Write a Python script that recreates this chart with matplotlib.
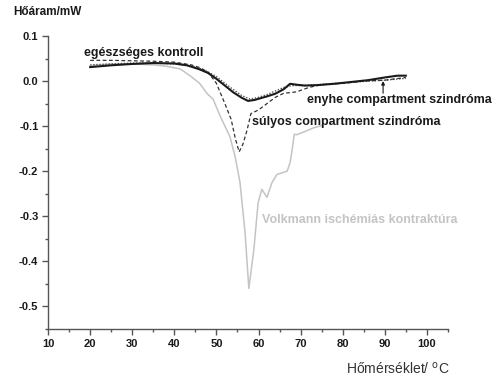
import matplotlib
matplotlib.use("Agg")
import matplotlib.pyplot as plt
from matplotlib.ticker import MultipleLocator

plt.rcParams['font.family'] = ['Liberation Sans', 'DejaVu Sans']

# egészséges kontroll (solid)
kontroll_t = [20, 25, 30, 35, 40, 43, 46, 48, 50, 52, 54, 56, 57.5, 59, 60.5, 62, 64, 66,
              67.5, 69, 71, 74, 78, 82, 86, 90, 93, 95]
kontroll_q = [0.031, 0.035, 0.038, 0.040, 0.039, 0.035, 0.026, 0.018, 0.005, -0.010, -0.025,
              -0.037, -0.044, -0.042, -0.038, -0.034, -0.028, -0.018, -0.006, -0.008, -0.010,
              -0.009, -0.006, -0.002, 0.002, 0.008, 0.012, 0.012]

# súlyos compartment szindróma (dashed)
sulyos_t = [20, 25, 30, 35, 40, 44, 46, 48, 50, 52, 53.5, 54.5, 55.4, 56.3, 57.3, 58.2, 60,
            62, 64, 66, 69, 72, 75, 80, 85, 90, 95]
sulyos_q = [0.046, 0.046, 0.045, 0.044, 0.042, 0.036, 0.030, 0.020, -0.005, -0.050, -0.085,
            -0.128, -0.157, -0.140, -0.108, -0.072, -0.064, -0.050, -0.036, -0.027, -0.024,
            -0.014, -0.008, -0.005, 0.000, 0.002, 0.008]

# enyhe compartment szindróma (dotted)
enyhe_t = [20, 25, 30, 35, 40, 44, 47, 50, 53, 56, 58, 60, 62, 64, 66, 68, 70, 74, 78, 82,
           86, 90, 95]
enyhe_q = [0.036, 0.038, 0.040, 0.040, 0.038, 0.033, 0.025, 0.010, -0.012, -0.032, -0.040,
           -0.036, -0.030, -0.022, -0.014, -0.010, -0.010, -0.008, -0.005, -0.003, 0.000,
           0.002, 0.006]

# Volkmann ischémiás kontraktúra (light grey)
volkmann_t = [20, 25, 30, 35, 38, 41.4, 44, 46, 47.8, 49.2, 51, 53.2, 54.5, 55.6, 56.8, 57.7,
              58.9, 59.9, 60.8, 62, 63.2, 64.4, 66.8, 67.5, 68, 68.5, 69.1, 71, 73, 75.3]
volkmann_q = [0.034, 0.038, 0.038, 0.036, 0.033, 0.027, 0.010, -0.005, -0.028, -0.040,
              -0.080, -0.123, -0.170, -0.225, -0.336, -0.460, -0.373, -0.270, -0.240, -0.258,
              -0.225, -0.207, -0.200, -0.181, -0.152, -0.118, -0.119, -0.112, -0.104, -0.098]

fig = plt.figure(figsize=(4.96, 3.83), dpi=100)
ax = fig.add_axes([0.097, 0.141, 0.806, 0.765])

ax.plot(volkmann_t, volkmann_q, color='#c4c4c4', lw=1.1)
ax.plot(enyhe_t, enyhe_q, color='#555555', lw=1.0, ls=(0, (1, 1.2)))
ax.plot(sulyos_t, sulyos_q, color='#333333', lw=0.9, ls=(0, (3, 2)))
ax.plot(kontroll_t, kontroll_q, color='#1a1a1a', lw=1.5)

ax.set_xlim(10, 105)
ax.set_ylim(-0.55, 0.1)
ax.xaxis.set_major_locator(MultipleLocator(10))
ax.xaxis.set_minor_locator(MultipleLocator(5))
ax.yaxis.set_major_locator(MultipleLocator(0.1))
ax.yaxis.set_minor_locator(MultipleLocator(0.05))
ax.yaxis.set_major_formatter(plt.FuncFormatter(lambda v, p: f"{v:.1f}"))

for s in ['top', 'right']:
    ax.spines[s].set_visible(False)
for s in ['left', 'bottom']:
    ax.spines[s].set_color('#555555')
    ax.spines[s].set_linewidth(1.0)
ax.tick_params(which='both', direction='out', color='#555555', width=1.0)
ax.tick_params(which='major', length=4, labelsize=8, pad=3, labelcolor='#1a1a1a')
ax.tick_params(which='minor', length=2)
for lab in ax.get_xticklabels() + ax.get_yticklabels():
    lab.set_fontweight('bold')

lab_kw = dict(fontsize=9, fontweight='bold', va='center', ha='left')
ax.text(18.5, 0.062, "egészséges kontroll", color='#1a1a1a', **lab_kw)
ax.text(71.5, -0.042, "enyhe compartment szindróma", color='#1a1a1a', **lab_kw)
ax.text(58.5, -0.090, "súlyos compartment szindróma", color='#1a1a1a', **lab_kw)
ax.text(60.8, -0.309, "Volkmann ischémiás kontraktúra", color='#c4c4c4', **lab_kw)

ax.annotate("", xy=(89.6, 0.0), xytext=(89.6, -0.027),
            arrowprops=dict(arrowstyle='-|>', color='#1a1a1a', lw=0.8,
                            mutation_scale=5, shrinkA=0, shrinkB=0))

fig.text(13 / 496, 1 - 12 / 383, "Hőáram/mW", fontsize=8.5, fontweight='bold',
         ha='left', va='center', color='#1a1a1a')
fig.text(450 / 496, 1 - 369 / 383, "Hőmérséklet/ $^{\\mathrm{o}}$C", fontsize=10,
         ha='right', va='center', color='#333333')

fig.savefig("out.png", dpi=100)
